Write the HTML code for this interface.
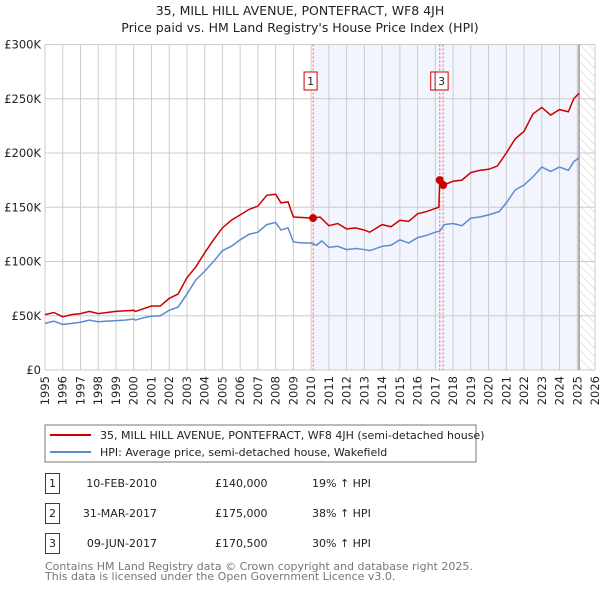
<!DOCTYPE html>
<html><head><meta charset="utf-8"><style>
body{margin:0;background:#fff;width:600px;height:590px;overflow:hidden;font-family:"DejaVu Sans","Liberation Sans",sans-serif}
svg text{font-family:"DejaVu Sans","Liberation Sans",sans-serif}
</style></head><body>
<svg id="c" width="600" height="590" xmlns="http://www.w3.org/2000/svg">
<defs><pattern id="hatch" width="6" height="6" patternUnits="userSpaceOnUse" patternTransform="rotate(-45)"><line x1="0" y1="0" x2="0" y2="6" stroke="#ccc" stroke-width="1"/></pattern></defs>
<text x="300" y="15" text-anchor="middle" font-size="12.5" fill="#222">35, MILL HILL AVENUE, PONTEFRACT, WF8 4JH</text>
<text x="300" y="32" text-anchor="middle" font-size="12.5" fill="#222">Price paid vs. HM Land Registry's House Price Index (HPI)</text>
<g id="plot"></g>
<rect x="45" y="425" width="431" height="37" fill="#fff" stroke="#777"/>
<line x1="50" y1="435" x2="91" y2="435" stroke="#cc0000" stroke-width="2"/>
<text x="100" y="439" font-size="11" fill="#222">35, MILL HILL AVENUE, PONTEFRACT, WF8 4JH (semi-detached house)</text>
<line x1="50" y1="452" x2="91" y2="452" stroke="#5b8bd0" stroke-width="2"/>
<text x="100" y="456" font-size="11" fill="#222">HPI: Average price, semi-detached house, Wakefield</text>
<g id="table" font-size="11" fill="#222"></g>
<text x="45" y="570" font-size="11" fill="#777">Contains HM Land Registry data © Crown copyright and database right 2025.</text>
<text x="45" y="580" font-size="11" fill="#777">This data is licensed under the Open Government Licence v3.0.</text>
</svg>
<script>
const hpiDates=[1995,1995.5,1996,1996.5,1997,1997.5,1998,1998.5,1999,1999.5,2000,2000.1,2000.5,2001,2001.5,2002,2002.5,2003,2003.5,2004,2004.5,2005,2005.5,2006,2006.5,2007,2007.5,2008,2008.3,2008.7,2009,2009.5,2010,2010.3,2010.6,2011,2011.5,2012,2012.5,2013,2013.3,2014,2014.5,2015,2015.5,2016,2016.5,2017,2017.25,2017.5,2018,2018.5,2019,2019.5,2020,2020.6,2021,2021.5,2022,2022.5,2023,2023.5,2024,2024.5,2024.8,2025.1];
const hpiValues=[43,45,42,43,44,46,44.5,45,45.5,46,47,46,48,49.5,50,55,58,70,83,91,100,110,114,120,125,127,134,136,129,131,118,117,117,115,119,113,114,111,112,111,110,114,115,120,117,122,124,127,128,134,135,133,140,141,143,146,154,166,170.5,178,187,183,187,184,192,195.5];
const priceDates=[1995,1995.5,1996,1996.5,1997,1997.5,1998,1999,2000,2000.1,2001,2001.5,2002,2002.5,2003,2003.5,2004,2004.5,2005,2005.5,2006,2006.5,2007,2007.5,2008,2008.3,2008.7,2009,2010.1,2010.5,2011,2011.5,2012,2012.5,2013,2013.3,2014,2014.5,2015,2015.5,2016,2016.5,2017.2,2017.25,2017.44,2017.7,2018,2018.5,2019,2019.5,2020,2020.5,2021,2021.5,2022,2022.5,2023,2023.5,2024,2024.5,2024.8,2025.1];
const priceValues=[51,53,49,51,52,54,52,54,55,54,59,59,66,70,85,95,108,120,131,138,143,148,151,161,162,154,155,141,140,141,133,135,130,131,129,127,134,132,138,137,144,146,150,175,170.5,172,174,175,182,184,185,188,200,213,220,236,242,235,240,238,250,255];
const sales=[{n:"1",d:2010.11,v:140,date:"10-FEB-2010",p:"£140,000",h:"19% ↑ HPI"},{n:"2",d:2017.25,v:175,date:"31-MAR-2017",p:"£175,000",h:"38% ↑ HPI"},{n:"3",d:2017.44,v:170.5,date:"09-JUN-2017",p:"£170,500",h:"30% ↑ HPI"}];
const yTicks=[0,50,100,150,200,250,300];
const yTickLabels=["£0","£50K","£100K","£150K","£200K","£250K","£300K"];
const xTicks=[1995,1996,1997,1998,1999,2000,2001,2002,2003,2004,2005,2006,2007,2008,2009,2010,2011,2012,2013,2014,2015,2016,2017,2018,2019,2020,2021,2022,2023,2024,2025,2026];
const NS="http://www.w3.org/2000/svg";
const L=45,R=595,T=44.5,B=370;
const xs=d=>L+(d-1995)/(2026-1995)*(R-L);
const ys=v=>B-v/300*(B-T);
const plot=document.getElementById('plot');
function mk(tag,attrs,parent){const e=document.createElementNS(NS,tag);for(const k in attrs)e.setAttribute(k,attrs[k]);(parent||plot).appendChild(e);return e;}
let e;
e=mk('rect',{x:L,y:T,width:R-L,height:B-T,fill:'#fff'});


e=mk('rect',{x:xs(2010.11),y:T,width:xs(2025.1)-xs(2010.11),height:B-T,fill:'#f2f5fd'});


e=mk('rect',{x:xs(2025.1),y:T,width:R-xs(2025.1),height:B-T,fill:'url(#hatch)'});


xTicks.forEach(t=>{
 e=mk('line',{x1:xs(t),x2:xs(t),y1:T,y2:B,stroke:'#ccc'});
 
 
 e=mk('text',{x:0,y:0,'font-size':11.5,fill:'#222','text-anchor':'end',transform:`translate(${xs(t)+4},${B+6}) rotate(-90)`});
 e.textContent=t;
 
 
});
yTicks.forEach((t,i)=>{
 e=mk('line',{x1:L,x2:R,y1:ys(t),y2:ys(t),stroke:'#ccc'});
 
 
 e=mk('text',{x:L-4,y:ys(t)+4,'font-size':11.5,fill:'#222','text-anchor':'end'});
 e.textContent=yTickLabels[i];
 
 
});
e=mk('line',{x1:xs(2025.1),x2:xs(2025.1),y1:T,y2:B,stroke:'#999','stroke-width':1.5});


sales.forEach(s=>{
 e=mk('line',{x1:xs(s.d),x2:xs(s.d),y1:T,y2:B,stroke:'#f06060','stroke-dasharray':'2,2'});
 
 
});
e=mk('polyline',{points:hpiDates.map((d,i)=>xs(d)+','+ys(hpiValues[i])).join(' '),fill:'none',stroke:'#5b8bd0','stroke-width':1.5});


e=mk('polyline',{points:priceDates.map((d,i)=>xs(d)+','+ys(priceValues[i])).join(' '),fill:'none',stroke:'#cc0000','stroke-width':1.5});


const boxOffsets=[-9,-9,-8];
sales.forEach((s,i)=>{
 e=mk('circle',{cx:xs(s.d),cy:ys(s.v),r:4,fill:'#cc0000'});
 
 
 const bx=xs(s.d)+boxOffsets[i];
 e=mk('rect',{x:bx,y:72,width:13,height:18,fill:'#fff',stroke:'#cc0000'});
 
 
 e=mk('text',{x:bx+6.5,y:85,'font-size':11,fill:'#222','text-anchor':'middle'});
 e.textContent=s.n;
 
 
});
const tb=document.getElementById('table');
sales.forEach((s,i)=>{
 const y=483+i*30;
 e=mk('rect',{x:45.5,y:y-9.5,width:14,height:20,fill:'#fff',stroke:'#cc0000'},tb);
 
 
 e=mk('text',{x:52.5,y:y+4,'text-anchor':'middle'},tb);e.textContent=s.n;
 
 
 e=mk('text',{x:157,y:y+4,'text-anchor':'end'},tb);e.textContent=s.date;
 
 
 e=mk('text',{x:215,y:y+4},tb);e.textContent=s.p;
 
 
 e=mk('text',{x:312,y:y+4},tb);e.textContent=s.h;
 
 
});
</script>
</body></html>
